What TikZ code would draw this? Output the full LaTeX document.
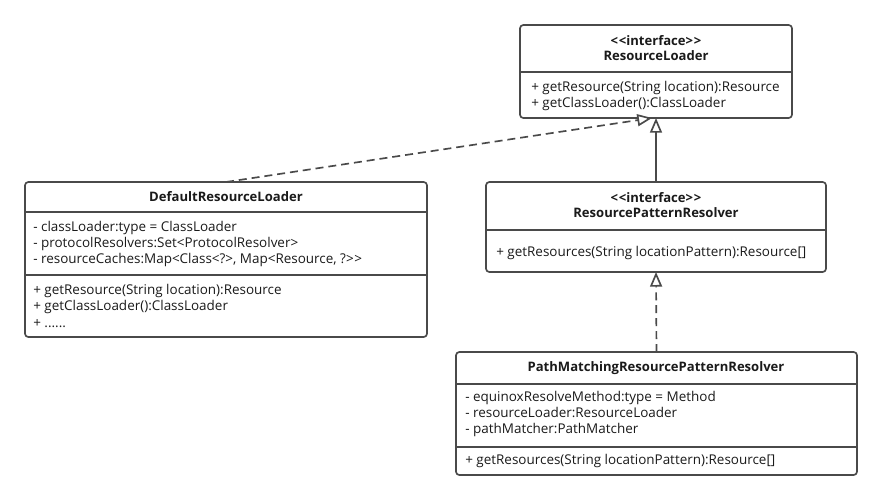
\documentclass[tikz,border=0pt]{standalone}
\usepackage{fontspec}
\setmainfont{Open Sans}
\usetikzlibrary{arrows.meta,fit,calc}
\definecolor{lc}{HTML}{4A4A4A}
\definecolor{tc}{HTML}{1A1A1A}
\newcommand{\stereo}{<\kern0.6pt<interface>\kern0.6pt>}
\begin{document}
\begin{tikzpicture}[x=0.75pt,y=-0.75pt,
 cls/.style={draw=lc, line width=1.25pt, rounded corners=2.5pt, fill=white, inner sep=0pt, outer sep=0pt},
 txt/.style={anchor=west, inner sep=0pt, text height=7.6pt, text depth=2.2pt, text=tc, font=\fontsize{10.1}{11}\selectfont},
 ttl/.style={inner sep=0pt, text height=7.6pt, text depth=2.2pt, text=tc, font=\fontsize{9.8}{11}\selectfont\bfseries},
 sep/.style={draw=lc, line width=1.25pt},
 real/.style={draw=lc, line width=1.25pt, -{Triangle[open,length=11pt,width=9pt,fill=white]}},
 dsh/.style={real, dash pattern=on 6pt off 3.7pt}]
\useasboundingbox (0,0) rectangle (882,500);
\fill[white] (0,0) rectangle (882,500);

% ResourceLoader
\node[cls, fit={(520,25)(792,118)}] (rl) {};
\draw[sep] (rl.west |- 0,72) -- (rl.east |- 0,72);
\node[ttl] (rlst) at (656,42) {\stereo};
\node[ttl] (rlnm) at (656,57) {ResourceLoader};
\node[txt] (rlm1) at (531,88) {+ getResource(String location):Resource};
\node[txt] (rlm2) at (531,104) {+ getClassLoader():ClassLoader};

% DefaultResourceLoader
\node[cls, fit={(25,182)(427,337)}] (drl) {};
\draw[sep] (drl.west |- 0,212) -- (drl.east |- 0,212);
\draw[sep] (drl.west |- 0,275) -- (drl.east |- 0,275);
\node[ttl] (drlnm) at (226,198) {DefaultResourceLoader};
\node[txt] (drla1) at (33,228) {- classLoader:type = ClassLoader};
\node[txt] (drla2) at (33,244) {- protocolResolvers:Set<ProtocolResolver>};
\node[txt] (drla3) at (33,260) {- resourceCaches:Map<Class<?>, Map<Resource, ?>\kern0.5pt>};
\node[txt] (drlm1) at (33,291) {+ getResource(String location):Resource};
\node[txt] (drlm2) at (33,307) {+ getClassLoader():ClassLoader};
\node[txt] (drlm3) at (33,324) {+ ......};

% ResourcePatternResolver
\node[cls, fit={(486,182)(826,272)}] (rpr) {};
\draw[sep] (rpr.west |- 0,230) -- (rpr.east |- 0,230);
\node[ttl] (rprst) at (656,199) {\stereo};
\node[ttl] (rprnm) at (656,214) {ResourcePatternResolver};
\node[txt] (rprm1) at (496,253) {+ getResources(String locationPattern):Resource[]};

% PathMatchingResourcePatternResolver
\node[cls, fit={(456,352)(857,475)}] (pm) {};
\draw[sep] (pm.west |- 0,384) -- (pm.east |- 0,384);
\draw[sep] (pm.west |- 0,447) -- (pm.east |- 0,447);
\node[ttl] (pmnm) at (656,368) {PathMatchingResourcePatternResolver};
\node[txt] (pma1) at (465,398) {- equinoxResolveMethod:type = Method};
\node[txt] (pma2) at (465,414) {- resourceLoader:ResourceLoader};
\node[txt] (pma3) at (465,430) {- pathMatcher:PathMatcher};
\node[txt] (pmm1) at (465,461) {+ getResources(String locationPattern):Resource[]};

% connectors
\draw[dsh] (drl.north) -- ($(rl.south)+(-4,0)$);
\draw[real] (rpr.north) -- (rl.south);
\draw[dsh] (pm.north) -- (rpr.south);
\end{tikzpicture}
\end{document}
